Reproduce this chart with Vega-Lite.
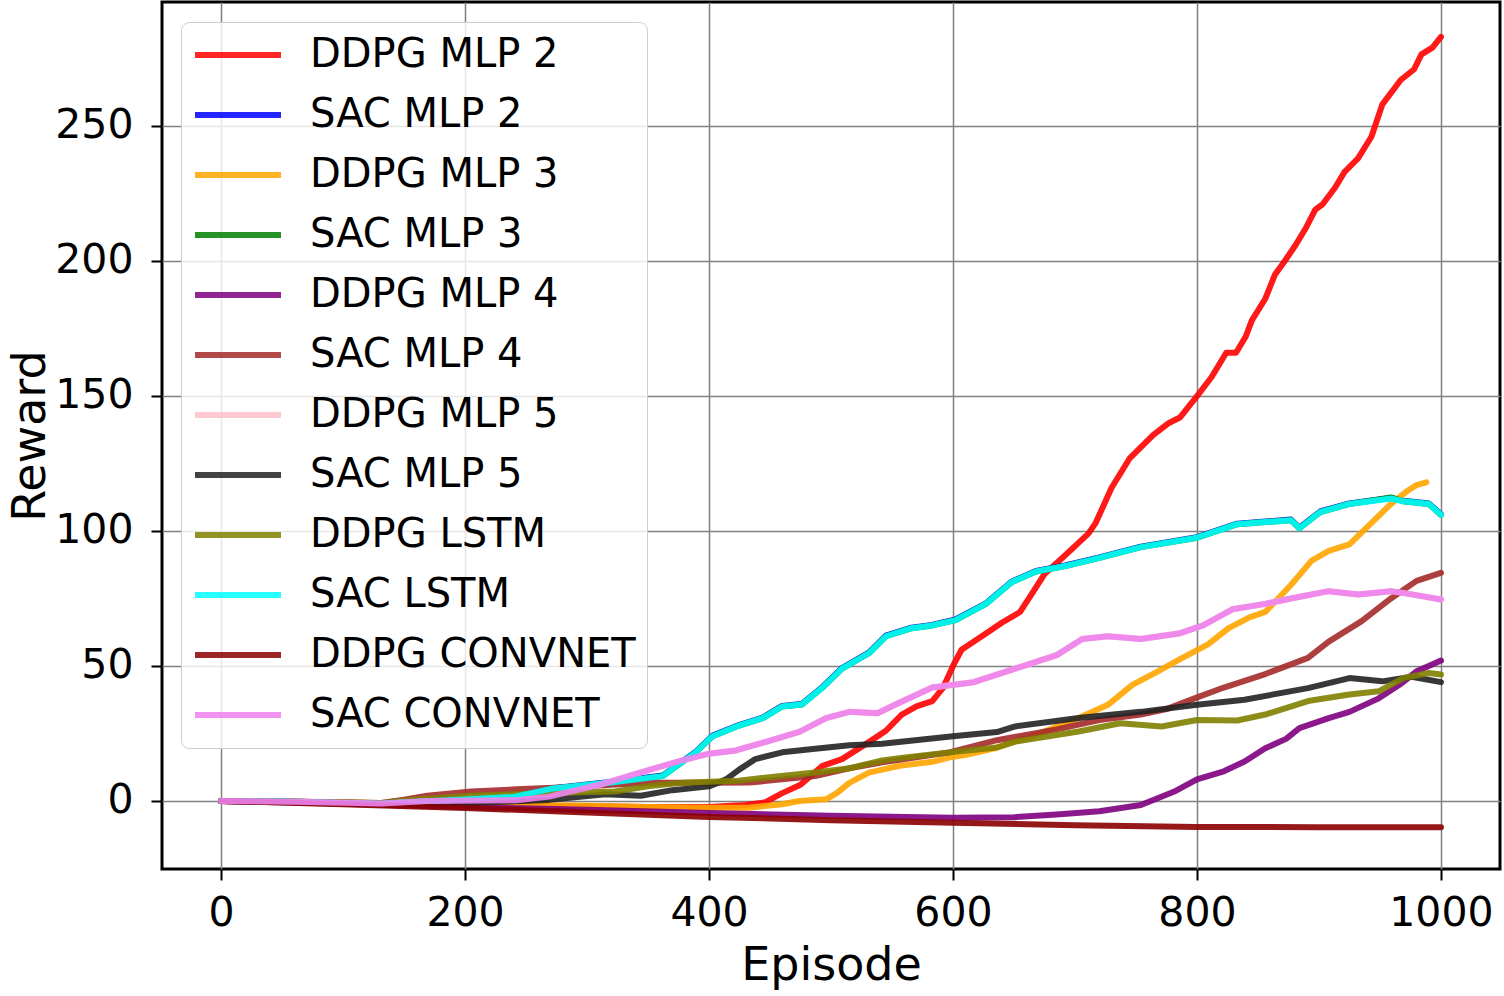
{
"$schema": "https://vega.github.io/schema/vega-lite/v6.json",
"width": 1338, "height": 867,
"autosize": {"type": "none"},
"padding": {"left": 162, "top": 2, "right": 4, "bottom": 127},
"background": "white",
"config": {
  "view": {"stroke": "black", "strokeWidth": 3},
  "axis": {"grid": true, "gridColor": "#808080", "gridWidth": 1.5, "gridOpacity": 1, "domain": false, "tickColor": "black", "tickWidth": 2, "tickSize": 11, "labelFont": "DejaVu Sans", "labelFontSize": 41, "labelColor": "black", "titleFont": "DejaVu Sans", "titleFontSize": 46, "titleFontWeight": "normal", "titleColor": "black"},
  "legend": {"orient": "none", "legendX": 19, "legendY": 20, "labelFont": "DejaVu Sans", "labelFontSize": 40, "labelColor": "black", "symbolType": "stroke", "symbolSize": 7396, "symbolStrokeWidth": 6.5, "clipHeight": 44, "rowPadding": 16, "padding": 11, "labelOffset": 26, "fillColor": "rgba(255,255,255,0.8)", "strokeColor": "#cccccc", "cornerRadius": 8, "symbolOpacity": 0.85, "labelLimit": 600}
},
"data": {"values": [
{"s":"DDPG MLP 2","e":0,"r":0},{"s":"DDPG MLP 2","e":50,"r":-0.3},{"s":"DDPG MLP 2","e":100,"r":-0.8},{"s":"DDPG MLP 2","e":150,"r":-1.2},{"s":"DDPG MLP 2","e":200,"r":-1.5},{"s":"DDPG MLP 2","e":250,"r":-1.8},{"s":"DDPG MLP 2","e":300,"r":-2.0},{"s":"DDPG MLP 2","e":350,"r":-2.2},{"s":"DDPG MLP 2","e":400,"r":-2.2},{"s":"DDPG MLP 2","e":430,"r":-1.5},{"s":"DDPG MLP 2","e":446,"r":-0.5},{"s":"DDPG MLP 2","e":460,"r":2.9},{"s":"DDPG MLP 2","e":475,"r":6},{"s":"DDPG MLP 2","e":493,"r":13},{"s":"DDPG MLP 2","e":509,"r":15.5},{"s":"DDPG MLP 2","e":531,"r":21.8},{"s":"DDPG MLP 2","e":545,"r":26},{"s":"DDPG MLP 2","e":558,"r":32},{"s":"DDPG MLP 2","e":570,"r":35},{"s":"DDPG MLP 2","e":583,"r":37},{"s":"DDPG MLP 2","e":592,"r":42},{"s":"DDPG MLP 2","e":600,"r":50},{"s":"DDPG MLP 2","e":607,"r":56},{"s":"DDPG MLP 2","e":627,"r":62},{"s":"DDPG MLP 2","e":640,"r":66},{"s":"DDPG MLP 2","e":655,"r":70},{"s":"DDPG MLP 2","e":665,"r":77},{"s":"DDPG MLP 2","e":675,"r":84},{"s":"DDPG MLP 2","e":692,"r":91},{"s":"DDPG MLP 2","e":711,"r":99},{"s":"DDPG MLP 2","e":717,"r":103},{"s":"DDPG MLP 2","e":730,"r":116},{"s":"DDPG MLP 2","e":745,"r":127},{"s":"DDPG MLP 2","e":764,"r":135.5},{"s":"DDPG MLP 2","e":777,"r":140},{"s":"DDPG MLP 2","e":786,"r":142},{"s":"DDPG MLP 2","e":801,"r":150.5},{"s":"DDPG MLP 2","e":812,"r":157},{"s":"DDPG MLP 2","e":824,"r":166},{"s":"DDPG MLP 2","e":832,"r":166},{"s":"DDPG MLP 2","e":840,"r":172},{"s":"DDPG MLP 2","e":845,"r":178},{"s":"DDPG MLP 2","e":856,"r":186},{"s":"DDPG MLP 2","e":864,"r":195},{"s":"DDPG MLP 2","e":872,"r":200},{"s":"DDPG MLP 2","e":881,"r":206},{"s":"DDPG MLP 2","e":889,"r":212},{"s":"DDPG MLP 2","e":897,"r":219},{"s":"DDPG MLP 2","e":903,"r":221},{"s":"DDPG MLP 2","e":913,"r":227},{"s":"DDPG MLP 2","e":921,"r":233},{"s":"DDPG MLP 2","e":932,"r":238},{"s":"DDPG MLP 2","e":943,"r":246},{"s":"DDPG MLP 2","e":952,"r":258},{"s":"DDPG MLP 2","e":967,"r":267},{"s":"DDPG MLP 2","e":978,"r":271},{"s":"DDPG MLP 2","e":984,"r":276.5},{"s":"DDPG MLP 2","e":993,"r":279},{"s":"DDPG MLP 2","e":1000,"r":283},
{"s":"SAC MLP 2","e":0,"r":0},{"s":"SAC MLP 2","e":50,"r":-0.2},{"s":"SAC MLP 2","e":100,"r":-0.7},{"s":"SAC MLP 2","e":130,"r":-0.9},{"s":"SAC MLP 2","e":160,"r":-0.2},{"s":"SAC MLP 2","e":200,"r":0.6},{"s":"SAC MLP 2","e":240,"r":1.6},{"s":"SAC MLP 2","e":270,"r":4.6},{"s":"SAC MLP 2","e":323,"r":7.2},{"s":"SAC MLP 2","e":362,"r":9.4},{"s":"SAC MLP 2","e":389,"r":18.2},{"s":"SAC MLP 2","e":403,"r":24.2},{"s":"SAC MLP 2","e":422,"r":27.7},{"s":"SAC MLP 2","e":444,"r":30.9},{"s":"SAC MLP 2","e":460,"r":35.2},{"s":"SAC MLP 2","e":476,"r":35.9},{"s":"SAC MLP 2","e":493,"r":42.2},{"s":"SAC MLP 2","e":509,"r":49.2},{"s":"SAC MLP 2","e":531,"r":54.9},{"s":"SAC MLP 2","e":545,"r":61.2},{"s":"SAC MLP 2","e":566,"r":64.2},{"s":"SAC MLP 2","e":583,"r":65.2},{"s":"SAC MLP 2","e":602,"r":67.2},{"s":"SAC MLP 2","e":627,"r":73.2},{"s":"SAC MLP 2","e":648,"r":81.2},{"s":"SAC MLP 2","e":668,"r":85.2},{"s":"SAC MLP 2","e":692,"r":87.2},{"s":"SAC MLP 2","e":720,"r":90.2},{"s":"SAC MLP 2","e":754,"r":94.2},{"s":"SAC MLP 2","e":800,"r":97.7},{"s":"SAC MLP 2","e":833,"r":102.7},{"s":"SAC MLP 2","e":877,"r":104.2},{"s":"SAC MLP 2","e":884,"r":101.2},{"s":"SAC MLP 2","e":901,"r":107.2},{"s":"SAC MLP 2","e":925,"r":110.2},{"s":"SAC MLP 2","e":959,"r":112.2},{"s":"SAC MLP 2","e":969,"r":111.2},{"s":"SAC MLP 2","e":990,"r":110.2},{"s":"SAC MLP 2","e":1000,"r":106.2},
{"s":"DDPG MLP 3","e":0,"r":0},{"s":"DDPG MLP 3","e":50,"r":-0.2},{"s":"DDPG MLP 3","e":100,"r":-0.6},{"s":"DDPG MLP 3","e":150,"r":-1},{"s":"DDPG MLP 3","e":200,"r":-1.2},{"s":"DDPG MLP 3","e":250,"r":-1.5},{"s":"DDPG MLP 3","e":300,"r":-1.8},{"s":"DDPG MLP 3","e":350,"r":-2.2},{"s":"DDPG MLP 3","e":400,"r":-2.5},{"s":"DDPG MLP 3","e":433,"r":-2.5},{"s":"DDPG MLP 3","e":460,"r":-1.2},{"s":"DDPG MLP 3","e":474,"r":0},{"s":"DDPG MLP 3","e":496,"r":0.6},{"s":"DDPG MLP 3","e":505,"r":3},{"s":"DDPG MLP 3","e":515,"r":6.7},{"s":"DDPG MLP 3","e":531,"r":10.5},{"s":"DDPG MLP 3","e":556,"r":13},{"s":"DDPG MLP 3","e":583,"r":14.5},{"s":"DDPG MLP 3","e":600,"r":16.4},{"s":"DDPG MLP 3","e":610,"r":17},{"s":"DDPG MLP 3","e":634,"r":19.5},{"s":"DDPG MLP 3","e":668,"r":24.5},{"s":"DDPG MLP 3","e":703,"r":30.7},{"s":"DDPG MLP 3","e":727,"r":35.6},{"s":"DDPG MLP 3","e":747,"r":43},{"s":"DDPG MLP 3","e":768,"r":48},{"s":"DDPG MLP 3","e":788,"r":53},{"s":"DDPG MLP 3","e":809,"r":58},{"s":"DDPG MLP 3","e":826,"r":64},{"s":"DDPG MLP 3","e":843,"r":68},{"s":"DDPG MLP 3","e":856,"r":70},{"s":"DDPG MLP 3","e":877,"r":80},{"s":"DDPG MLP 3","e":894,"r":89},{"s":"DDPG MLP 3","e":908,"r":92.6},{"s":"DDPG MLP 3","e":925,"r":95},{"s":"DDPG MLP 3","e":942,"r":102.5},{"s":"DDPG MLP 3","e":959,"r":110},{"s":"DDPG MLP 3","e":973,"r":115},{"s":"DDPG MLP 3","e":980,"r":117},{"s":"DDPG MLP 3","e":988,"r":118},
{"s":"SAC MLP 3","e":0,"r":0},{"s":"SAC MLP 3","e":50,"r":-0.2},{"s":"SAC MLP 3","e":100,"r":-0.8},{"s":"SAC MLP 3","e":130,"r":-1},{"s":"SAC MLP 3","e":160,"r":-0.3},{"s":"SAC MLP 3","e":200,"r":0.5},{"s":"SAC MLP 3","e":240,"r":1.5},{"s":"SAC MLP 3","e":270,"r":4.5},{"s":"SAC MLP 3","e":323,"r":7},{"s":"SAC MLP 3","e":362,"r":9.2},{"s":"SAC MLP 3","e":389,"r":18},{"s":"SAC MLP 3","e":403,"r":24},{"s":"SAC MLP 3","e":422,"r":27.5},{"s":"SAC MLP 3","e":444,"r":30.7},{"s":"SAC MLP 3","e":460,"r":35},{"s":"SAC MLP 3","e":476,"r":35.7},{"s":"SAC MLP 3","e":493,"r":42},{"s":"SAC MLP 3","e":509,"r":49},{"s":"SAC MLP 3","e":531,"r":54.7},{"s":"SAC MLP 3","e":545,"r":61},{"s":"SAC MLP 3","e":566,"r":64},{"s":"SAC MLP 3","e":583,"r":65},{"s":"SAC MLP 3","e":602,"r":67},{"s":"SAC MLP 3","e":627,"r":73},{"s":"SAC MLP 3","e":648,"r":81},{"s":"SAC MLP 3","e":668,"r":85},{"s":"SAC MLP 3","e":692,"r":87},{"s":"SAC MLP 3","e":720,"r":90},{"s":"SAC MLP 3","e":754,"r":94},{"s":"SAC MLP 3","e":800,"r":97.5},{"s":"SAC MLP 3","e":833,"r":102.5},{"s":"SAC MLP 3","e":877,"r":104},{"s":"SAC MLP 3","e":884,"r":101},{"s":"SAC MLP 3","e":901,"r":107},{"s":"SAC MLP 3","e":925,"r":110},{"s":"SAC MLP 3","e":959,"r":112.4},{"s":"SAC MLP 3","e":969,"r":111},{"s":"SAC MLP 3","e":990,"r":110},{"s":"SAC MLP 3","e":1000,"r":106},
{"s":"DDPG MLP 4","e":0,"r":0},{"s":"DDPG MLP 4","e":100,"r":-1},{"s":"DDPG MLP 4","e":200,"r":-2.2},{"s":"DDPG MLP 4","e":300,"r":-3.3},{"s":"DDPG MLP 4","e":400,"r":-4.5},{"s":"DDPG MLP 4","e":500,"r":-5.5},{"s":"DDPG MLP 4","e":600,"r":-6.2},{"s":"DDPG MLP 4","e":650,"r":-6.0},{"s":"DDPG MLP 4","e":685,"r":-5.0},{"s":"DDPG MLP 4","e":720,"r":-3.8},{"s":"DDPG MLP 4","e":754,"r":-1.5},{"s":"DDPG MLP 4","e":781,"r":3.4},{"s":"DDPG MLP 4","e":800,"r":8},{"s":"DDPG MLP 4","e":822,"r":11},{"s":"DDPG MLP 4","e":839,"r":14.6},{"s":"DDPG MLP 4","e":856,"r":19.5},{"s":"DDPG MLP 4","e":873,"r":23},{"s":"DDPG MLP 4","e":884,"r":27},{"s":"DDPG MLP 4","e":908,"r":30.7},{"s":"DDPG MLP 4","e":925,"r":33},{"s":"DDPG MLP 4","e":949,"r":38},{"s":"DDPG MLP 4","e":966,"r":43},{"s":"DDPG MLP 4","e":980,"r":48},{"s":"DDPG MLP 4","e":990,"r":50},{"s":"DDPG MLP 4","e":1000,"r":52},
{"s":"SAC MLP 4","e":0,"r":0},{"s":"SAC MLP 4","e":50,"r":-0.2},{"s":"SAC MLP 4","e":100,"r":-0.5},{"s":"SAC MLP 4","e":130,"r":-0.8},{"s":"SAC MLP 4","e":150,"r":0.5},{"s":"SAC MLP 4","e":169,"r":1.9},{"s":"SAC MLP 4","e":205,"r":3.5},{"s":"SAC MLP 4","e":242,"r":4.3},{"s":"SAC MLP 4","e":278,"r":5},{"s":"SAC MLP 4","e":320,"r":6},{"s":"SAC MLP 4","e":351,"r":6.7},{"s":"SAC MLP 4","e":400,"r":6.7},{"s":"SAC MLP 4","e":433,"r":6.8},{"s":"SAC MLP 4","e":487,"r":9.2},{"s":"SAC MLP 4","e":514,"r":12},{"s":"SAC MLP 4","e":542,"r":14.3},{"s":"SAC MLP 4","e":597,"r":18},{"s":"SAC MLP 4","e":636,"r":22.5},{"s":"SAC MLP 4","e":685,"r":26.5},{"s":"SAC MLP 4","e":720,"r":30},{"s":"SAC MLP 4","e":754,"r":32},{"s":"SAC MLP 4","e":775,"r":34},{"s":"SAC MLP 4","e":798,"r":38},{"s":"SAC MLP 4","e":822,"r":42},{"s":"SAC MLP 4","e":856,"r":47},{"s":"SAC MLP 4","e":891,"r":53},{"s":"SAC MLP 4","e":908,"r":59},{"s":"SAC MLP 4","e":935,"r":66.6},{"s":"SAC MLP 4","e":959,"r":75},{"s":"SAC MLP 4","e":980,"r":81.5},{"s":"SAC MLP 4","e":1000,"r":84.5},
{"s":"DDPG MLP 5","e":0,"r":0},{"s":"DDPG MLP 5","e":60,"r":-0.3},{"s":"DDPG MLP 5","e":132,"r":-0.9},{"s":"DDPG MLP 5","e":169,"r":0},{"s":"DDPG MLP 5","e":242,"r":0.3},{"s":"DDPG MLP 5","e":269,"r":1.6},{"s":"DDPG MLP 5","e":310,"r":6},{"s":"DDPG MLP 5","e":351,"r":11.5},{"s":"DDPG MLP 5","e":378,"r":15},{"s":"DDPG MLP 5","e":400,"r":17.5},{"s":"DDPG MLP 5","e":422,"r":18.7},{"s":"DDPG MLP 5","e":446,"r":21.8},{"s":"DDPG MLP 5","e":474,"r":25.6},{"s":"DDPG MLP 5","e":496,"r":30.7},{"s":"DDPG MLP 5","e":515,"r":33},{"s":"DDPG MLP 5","e":538,"r":32.5},{"s":"DDPG MLP 5","e":559,"r":37},{"s":"DDPG MLP 5","e":583,"r":42},{"s":"DDPG MLP 5","e":617,"r":44},{"s":"DDPG MLP 5","e":651,"r":49},{"s":"DDPG MLP 5","e":685,"r":54},{"s":"DDPG MLP 5","e":706,"r":60},{"s":"DDPG MLP 5","e":727,"r":61},{"s":"DDPG MLP 5","e":754,"r":60},{"s":"DDPG MLP 5","e":785,"r":62},{"s":"DDPG MLP 5","e":805,"r":65},{"s":"DDPG MLP 5","e":829,"r":71},{"s":"DDPG MLP 5","e":856,"r":73},{"s":"DDPG MLP 5","e":877,"r":75},{"s":"DDPG MLP 5","e":908,"r":77.7},{"s":"DDPG MLP 5","e":932,"r":76.5},{"s":"DDPG MLP 5","e":959,"r":77.7},{"s":"DDPG MLP 5","e":976,"r":76.5},{"s":"DDPG MLP 5","e":1000,"r":74.6},
{"s":"SAC MLP 5","e":0,"r":0},{"s":"SAC MLP 5","e":50,"r":-0.3},{"s":"SAC MLP 5","e":100,"r":-0.8},{"s":"SAC MLP 5","e":150,"r":-1},{"s":"SAC MLP 5","e":200,"r":-0.8},{"s":"SAC MLP 5","e":269,"r":0.4},{"s":"SAC MLP 5","e":315,"r":2.5},{"s":"SAC MLP 5","e":344,"r":1.9},{"s":"SAC MLP 5","e":370,"r":4},{"s":"SAC MLP 5","e":400,"r":5.4},{"s":"SAC MLP 5","e":414,"r":8},{"s":"SAC MLP 5","e":425,"r":11.7},{"s":"SAC MLP 5","e":438,"r":15.5},{"s":"SAC MLP 5","e":460,"r":18},{"s":"SAC MLP 5","e":487,"r":19.3},{"s":"SAC MLP 5","e":515,"r":20.6},{"s":"SAC MLP 5","e":542,"r":21.2},{"s":"SAC MLP 5","e":569,"r":22.5},{"s":"SAC MLP 5","e":600,"r":24},{"s":"SAC MLP 5","e":636,"r":25.5},{"s":"SAC MLP 5","e":651,"r":27.6},{"s":"SAC MLP 5","e":703,"r":30.7},{"s":"SAC MLP 5","e":754,"r":33},{"s":"SAC MLP 5","e":800,"r":35.6},{"s":"SAC MLP 5","e":839,"r":37.5},{"s":"SAC MLP 5","e":891,"r":41.8},{"s":"SAC MLP 5","e":925,"r":45.5},{"s":"SAC MLP 5","e":952,"r":44.3},{"s":"SAC MLP 5","e":976,"r":46},{"s":"SAC MLP 5","e":1000,"r":44},
{"s":"DDPG LSTM","e":0,"r":0},{"s":"DDPG LSTM","e":50,"r":-0.2},{"s":"DDPG LSTM","e":100,"r":-0.6},{"s":"DDPG LSTM","e":130,"r":-0.8},{"s":"DDPG LSTM","e":160,"r":0.5},{"s":"DDPG LSTM","e":205,"r":1.9},{"s":"DDPG LSTM","e":278,"r":3},{"s":"DDPG LSTM","e":323,"r":3.5},{"s":"DDPG LSTM","e":351,"r":5.5},{"s":"DDPG LSTM","e":378,"r":6.7},{"s":"DDPG LSTM","e":424,"r":7.5},{"s":"DDPG LSTM","e":433,"r":8},{"s":"DDPG LSTM","e":487,"r":10.5},{"s":"DDPG LSTM","e":514,"r":12},{"s":"DDPG LSTM","e":542,"r":15},{"s":"DDPG LSTM","e":559,"r":16},{"s":"DDPG LSTM","e":597,"r":18},{"s":"DDPG LSTM","e":636,"r":19.8},{"s":"DDPG LSTM","e":651,"r":22},{"s":"DDPG LSTM","e":703,"r":25.7},{"s":"DDPG LSTM","e":737,"r":28.8},{"s":"DDPG LSTM","e":771,"r":27.6},{"s":"DDPG LSTM","e":800,"r":30},{"s":"DDPG LSTM","e":833,"r":29.8},{"s":"DDPG LSTM","e":856,"r":32},{"s":"DDPG LSTM","e":891,"r":37},{"s":"DDPG LSTM","e":925,"r":39.4},{"s":"DDPG LSTM","e":949,"r":40.6},{"s":"DDPG LSTM","e":969,"r":45.5},{"s":"DDPG LSTM","e":990,"r":47.4},{"s":"DDPG LSTM","e":1000,"r":46.8},
{"s":"SAC LSTM","e":0,"r":0},{"s":"SAC LSTM","e":50,"r":-0.2},{"s":"SAC LSTM","e":100,"r":-0.8},{"s":"SAC LSTM","e":130,"r":-1},{"s":"SAC LSTM","e":160,"r":-0.3},{"s":"SAC LSTM","e":200,"r":0.5},{"s":"SAC LSTM","e":240,"r":1.5},{"s":"SAC LSTM","e":270,"r":4.5},{"s":"SAC LSTM","e":323,"r":7},{"s":"SAC LSTM","e":362,"r":9.2},{"s":"SAC LSTM","e":389,"r":18},{"s":"SAC LSTM","e":403,"r":24},{"s":"SAC LSTM","e":422,"r":27.5},{"s":"SAC LSTM","e":444,"r":30.7},{"s":"SAC LSTM","e":460,"r":35},{"s":"SAC LSTM","e":476,"r":35.7},{"s":"SAC LSTM","e":493,"r":42},{"s":"SAC LSTM","e":509,"r":49},{"s":"SAC LSTM","e":531,"r":54.7},{"s":"SAC LSTM","e":545,"r":61},{"s":"SAC LSTM","e":566,"r":64},{"s":"SAC LSTM","e":583,"r":65},{"s":"SAC LSTM","e":602,"r":67},{"s":"SAC LSTM","e":627,"r":73},{"s":"SAC LSTM","e":648,"r":81},{"s":"SAC LSTM","e":668,"r":85},{"s":"SAC LSTM","e":692,"r":87},{"s":"SAC LSTM","e":720,"r":90},{"s":"SAC LSTM","e":754,"r":94},{"s":"SAC LSTM","e":800,"r":97.5},{"s":"SAC LSTM","e":833,"r":102.5},{"s":"SAC LSTM","e":877,"r":104},{"s":"SAC LSTM","e":884,"r":101},{"s":"SAC LSTM","e":901,"r":107},{"s":"SAC LSTM","e":925,"r":110},{"s":"SAC LSTM","e":959,"r":112},{"s":"SAC LSTM","e":969,"r":111},{"s":"SAC LSTM","e":990,"r":110},{"s":"SAC LSTM","e":1000,"r":106},
{"s":"DDPG CONVNET","e":0,"r":0},{"s":"DDPG CONVNET","e":100,"r":-1.2},{"s":"DDPG CONVNET","e":200,"r":-2.6},{"s":"DDPG CONVNET","e":300,"r":-4.3},{"s":"DDPG CONVNET","e":400,"r":-5.9},{"s":"DDPG CONVNET","e":500,"r":-7.1},{"s":"DDPG CONVNET","e":600,"r":-8.1},{"s":"DDPG CONVNET","e":700,"r":-9},{"s":"DDPG CONVNET","e":800,"r":-9.6},{"s":"DDPG CONVNET","e":900,"r":-9.7},{"s":"DDPG CONVNET","e":1000,"r":-9.7},
{"s":"SAC CONVNET","e":0,"r":0},{"s":"SAC CONVNET","e":60,"r":-0.3},{"s":"SAC CONVNET","e":132,"r":-0.9},{"s":"SAC CONVNET","e":169,"r":0},{"s":"SAC CONVNET","e":242,"r":0.3},{"s":"SAC CONVNET","e":269,"r":1.6},{"s":"SAC CONVNET","e":310,"r":6},{"s":"SAC CONVNET","e":351,"r":11.5},{"s":"SAC CONVNET","e":378,"r":15},{"s":"SAC CONVNET","e":400,"r":17.5},{"s":"SAC CONVNET","e":422,"r":18.7},{"s":"SAC CONVNET","e":446,"r":21.8},{"s":"SAC CONVNET","e":474,"r":25.6},{"s":"SAC CONVNET","e":496,"r":30.7},{"s":"SAC CONVNET","e":515,"r":33},{"s":"SAC CONVNET","e":538,"r":32.5},{"s":"SAC CONVNET","e":559,"r":37},{"s":"SAC CONVNET","e":583,"r":42},{"s":"SAC CONVNET","e":617,"r":44},{"s":"SAC CONVNET","e":651,"r":49},{"s":"SAC CONVNET","e":685,"r":54},{"s":"SAC CONVNET","e":706,"r":60},{"s":"SAC CONVNET","e":727,"r":61},{"s":"SAC CONVNET","e":754,"r":60},{"s":"SAC CONVNET","e":785,"r":62},{"s":"SAC CONVNET","e":805,"r":65},{"s":"SAC CONVNET","e":829,"r":71},{"s":"SAC CONVNET","e":856,"r":73},{"s":"SAC CONVNET","e":877,"r":75},{"s":"SAC CONVNET","e":908,"r":77.7},{"s":"SAC CONVNET","e":932,"r":76.5},{"s":"SAC CONVNET","e":959,"r":77.7},{"s":"SAC CONVNET","e":976,"r":76.5},{"s":"SAC CONVNET","e":1000,"r":74.6}
]},
"mark": {"type": "line", "opacity": 0.9, "strokeCap": "round", "strokeJoin": "round"},
"encoding": {
  "x": {"field": "e", "type": "quantitative", "scale": {"domain": [-48.4, 1048.4], "nice": false, "zero": false}, "axis": {"title": "Episode", "values": [0, 200, 400, 600, 800, 1000], "format": "d", "labelPadding": 13, "titlePadding": 10}},
  "y": {"field": "r", "type": "quantitative", "scale": {"domain": [-25.2, 295.9], "nice": false, "zero": false}, "axis": {"title": "Reward", "values": [0, 50, 100, 150, 200, 250], "labelPadding": 18, "titlePadding": 0}},
  "color": {"field": "s", "type": "nominal", "title": null,
    "scale": {"domain": ["DDPG MLP 2","SAC MLP 2","DDPG MLP 3","SAC MLP 3","DDPG MLP 4","SAC MLP 4","DDPG MLP 5","SAC MLP 5","DDPG LSTM","SAC LSTM","DDPG CONVNET","SAC CONVNET"],
              "range": ["#ff0000","#0000ff","#ffa500","#008000","#800080","#a52a2a","#ffc0cb","#222222","#808000","#00ffff","#8b0000","#ee82ee"]},
    "legend": {"encode": {"symbols": {"update": {"strokeWidth": {"condition": {"test": "datum.value === 'SAC MLP 5'", "value": 3}, "value": 6.5}}}}}},
  "strokeWidth": {"field": "s", "type": "nominal", "legend": null,
    "scale": {"domain": ["DDPG MLP 2","SAC MLP 2","DDPG MLP 3","SAC MLP 3","DDPG MLP 4","SAC MLP 4","DDPG MLP 5","SAC MLP 5","DDPG LSTM","SAC LSTM","DDPG CONVNET","SAC CONVNET"],
              "range": [6,6,6,6,6,6,6,2.5,6,6,6,6]}}
}
}
